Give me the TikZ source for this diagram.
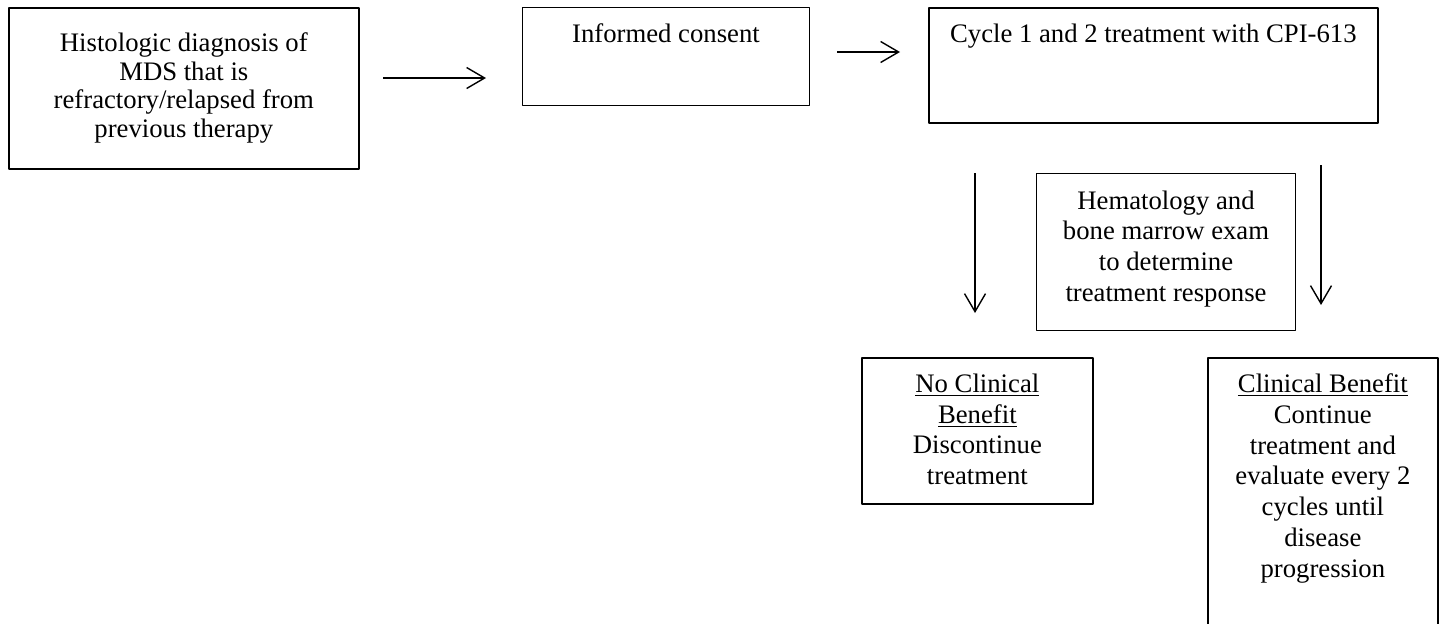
\documentclass[tikz,border=0pt]{standalone}
\usepackage{fontspec}
\setmainfont{Liberation Serif}
\usepackage{tikz}
\usetikzlibrary{arrows.meta, positioning, calc}

\newcommand{\flowtext}[4]{\parbox[c][#2][t]{#1}{\centering\vspace*{#3}#4\par}}

\begin{document}
\begin{tikzpicture}[x=0.02cm, y=-0.02cm, line join=round,
        flowbox/.style={draw, line width=0.8pt, inner sep=0pt, anchor=north west,
                        font=\fontsize{15.2}{17.5}\selectfont},
        flow/.style={-{Straight Barb[length=3.6mm, width=4.2mm]}, line width=0.8pt}]
    \useasboundingbox (0,0) rectangle (1442,623);
    % top row
    \node[flowbox, line width=1pt, font=\fontsize{15.2}{16.3}\selectfont] (diag) at (8,7)
        {\flowtext{7.0cm}{3.22cm}{0.5cm}{Histologic diagnosis of\\ MDS that is\\ refractory/relapsed from\\ previous therapy}};
    \node[flowbox, line width=0.6pt] (consent) at (522,7)
        {\flowtext{5.74cm}{1.96cm}{0.32cm}{Informed consent}};
    \node[flowbox, line width=1pt] (cycle) at (928,7)
        {\flowtext{8.98cm}{2.3cm}{0.32cm}{Cycle 1 and 2 treatment with CPI-613}};
    % response check
    \node[flowbox, line width=0.6pt] (exam) at (1036,173)
        {\flowtext{5.18cm}{3.14cm}{0.34cm}{Hematology and\\ bone marrow exam\\ to determine\\ treatment response}};
    % outcomes
    \node[flowbox, line width=1pt] (nobenefit) at (861,357)
        {\flowtext{4.62cm}{2.92cm}{0.32cm}{\underline{No Clinical}\\ \underline{Benefit}\\ Discontinue\\ treatment}};
    \node[flowbox, line width=1pt] (benefit) at (1207,357)
        {\flowtext{4.6cm}{5.7cm}{0.32cm}{\underline{Clinical Benefit}\\ Continue\\ treatment and\\ evaluate every 2\\ cycles until\\ disease\\ progression}};
    % arrows
    \coordinate (a1s) at (383,78);  \coordinate (a1e) at (486,78);
    \coordinate (a2s) at (837,52);  \coordinate (a2e) at (900,52);
    \coordinate (a3s) at (975,173); \coordinate (a3e) at (975,313);
    \coordinate (a4s) at (1321,165); \coordinate (a4e) at (1321,305);
    \draw[flow] (a1s) -- (a1e);
    \draw[flow] (a2s) -- (a2e);
    \draw[flow] (a3s) -- (a3e);
    \draw[flow] (a4s) -- (a4e);
\end{tikzpicture}
\end{document}
